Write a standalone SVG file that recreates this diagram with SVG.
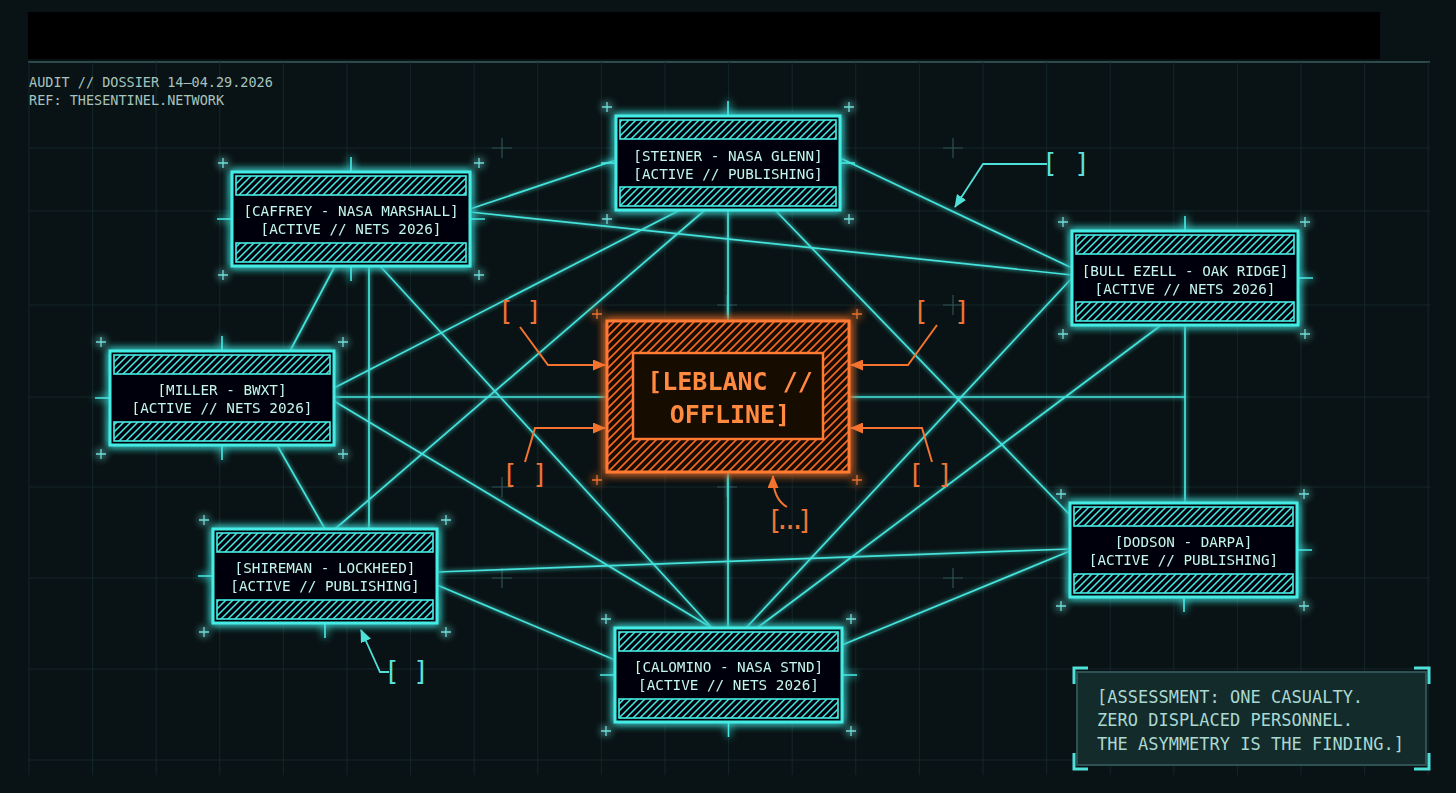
<svg xmlns="http://www.w3.org/2000/svg" width="1456" height="793" viewBox="0 0 1456 793">
<defs>
<style>
.grid{stroke:#15272a;stroke-width:1;fill:none}
.xh{stroke:#2d5153;stroke-width:1.2;fill:none}
.nbox{fill:#020607;stroke:#45ece6;stroke-width:3}
.band{fill:url(#hatchC);stroke:#45ece6;stroke-width:1.6}
.nt{font-family:"DejaVu Sans Mono","Liberation Mono",monospace;font-size:14.3px;fill:#c4f5f0;text-anchor:middle}
.tick{stroke:#45ece6;stroke-width:1.6;fill:none}
.plus{stroke:#6fdcd7;stroke-width:1.3;fill:none}
.edge{stroke:#44e3dc;stroke-width:1.7;fill:none}
.oarr{stroke:#f4742f;stroke-width:2;fill:none}
.carr{stroke:#4fe0da;stroke-width:1.8;fill:none}
.obr{font-family:"DejaVu Sans Mono","Liberation Mono",monospace;font-size:26px;fill:#ee7536}
.cbr{font-family:"DejaVu Sans Mono","Liberation Mono",monospace;font-size:26px;fill:#5ee0da}
.hdr{font-family:"DejaVu Sans Mono","Liberation Mono",monospace;font-size:13.5px;fill:#a6c4bf}
.asm{font-family:"DejaVu Sans Mono","Liberation Mono",monospace;font-size:17px;fill:#a9d9d1}
</style>
<pattern id="hatchC" width="7" height="7" patternUnits="userSpaceOnUse">
<path d="M-2,2 L2,-2 M0,7 L7,0 M5,9 L9,5" stroke="#45ece6" stroke-width="1.5"/>
</pattern>
<pattern id="hatchO" width="8" height="8" patternUnits="userSpaceOnUse">
<rect width="8" height="8" fill="#1a0a04"/>
<path d="M-2,2 L2,-2 M0,8 L8,0 M6,10 L10,6" stroke="#f06a26" stroke-width="1.7"/>
</pattern>
<filter id="glowC" filterUnits="userSpaceOnUse" x="0" y="0" width="1456" height="793">
<feGaussianBlur in="SourceGraphic" stdDeviation="4" result="b"/>
<feMerge><feMergeNode in="b"/><feMergeNode in="b"/><feMergeNode in="SourceGraphic"/></feMerge>
</filter>
<filter id="glowE" filterUnits="userSpaceOnUse" x="0" y="0" width="1456" height="793">
<feGaussianBlur in="SourceGraphic" stdDeviation="2" result="b"/>
<feMerge><feMergeNode in="b"/><feMergeNode in="SourceGraphic"/></feMerge>
</filter>
<filter id="glowO" filterUnits="userSpaceOnUse" x="0" y="0" width="1456" height="793">
<feGaussianBlur in="SourceGraphic" stdDeviation="5" result="b"/>
<feMerge><feMergeNode in="b"/><feMergeNode in="b"/><feMergeNode in="SourceGraphic"/></feMerge>
</filter>
<marker id="mO" markerUnits="userSpaceOnUse" markerWidth="13" markerHeight="11" refX="12" refY="5.5" orient="auto">
<path d="M0,0 L13,5.5 L0,11 Z" fill="#f4742f"/>
</marker>
<marker id="mC" markerUnits="userSpaceOnUse" markerWidth="13" markerHeight="11" refX="12" refY="5.5" orient="auto">
<path d="M0,0 L13,5.5 L0,11 Z" fill="#4fe0da"/>
</marker>
</defs>

<rect width="1456" height="793" fill="#091214"/>
<rect x="28" y="12" width="1352" height="47" fill="#000"/>
<line x1="28" y1="62" x2="1430" y2="62" stroke="#2d4a4c" stroke-width="2"/>

<g id="grid" class="grid">
<path d="M29,62V775 M92.6,62V775 M156.2,62V775 M219.8,62V775 M283.4,62V775 M347,62V775 M410.6,62V775 M474.2,62V775 M537.8,62V775 M601.4,62V775 M665,62V775 M728.6,62V775 M792.2,62V775 M855.8,62V775 M919.4,62V775 M983,62V775 M1046.6,62V775 M1110.2,62V775 M1173.8,62V775 M1237.4,62V775 M1301,62V775 M1364.6,62V775 M1428.2,62V775"/>
<path d="M29,148H1430 M29,211H1430 M29,305H1430 M29,397H1430 M29,487H1430 M29,578H1430 M29,669H1430 M29,760H1430"/>
</g>
<g id="crosshairs" class="xh">
<path d="M492,148h20M502,138v20 M943,148h20M953,138v20 M717,305h20M727,295v20 M943,305h20M953,295v20 M492,487h20M502,477v20 M717,487h20M727,477v20 M492,578h20M502,568v20 M943,578h20M953,568v20"/>
</g>

<g id="header">
<text class="hdr" x="29" y="87">AUDIT // DOSSIER 14–04.29.2026</text>
<text class="hdr" x="29" y="105">REF: THESENTINEL.NETWORK</text>
</g>

<g id="connectors" filter="url(#glowE)">
<path class="edge" d="M470,209 L616,160"/>
<path class="edge" d="M470,212 L1072,275"/>
<path class="edge" d="M335,266 L290,351"/>
<path class="edge" d="M369,266 L369,529"/>
<path class="edge" d="M380,266 L712,628"/>
<path class="edge" d="M334,388 L680,210"/>
<path class="edge" d="M334,397 L607,397"/>
<path class="edge" d="M334,401 L712,628"/>
<path class="edge" d="M277,445 L325,529"/>
<path class="edge" d="M335,529 L705,210"/>
<path class="edge" d="M437,572 L1070,549"/>
<path class="edge" d="M437,585 L615,660"/>
<path class="edge" d="M728,210 L728,321"/>
<path class="edge" d="M728,472 L728,628"/>
<path class="edge" d="M840,158 L1072,268"/>
<path class="edge" d="M775,210 L1070,515"/>
<path class="edge" d="M1072,278 L746,628"/>
<path class="edge" d="M1160,326 L757,628"/>
<path class="edge" d="M1185,326 L1185,503"/>
<path class="edge" d="M849,397 L1185,397"/>
<path class="edge" d="M1070,551 L842,645"/>
</g>

<g id="node-steiner" filter="url(#glowC)">
<rect class="nbox" x="616" y="116" width="224" height="94"/>
<rect class="band" x="620" y="120" width="216" height="19"/>
<rect class="band" x="620" y="187" width="216" height="19"/>
<path class="tick" d="M728,101V116 M601,163H616 M840,163H855"/>
<path class="plus" d="M602,107h10M607,102v10 M844,107h10M849,102v10 M602,219h10M607,214v10 M844,219h10M849,214v10"/>
<text class="nt" x="728" y="161">[STEINER - NASA GLENN]</text>
<text class="nt" x="728" y="179">[ACTIVE // PUBLISHING]</text>
</g>

<g id="node-caffrey" filter="url(#glowC)">
<rect class="nbox" x="232" y="172" width="238" height="94"/>
<rect class="band" x="236" y="176" width="230" height="19"/>
<rect class="band" x="236" y="243" width="230" height="19"/>
<path class="tick" d="M351,157V172 M217,219H232 M470,219H485 M351,266V281"/>
<path class="plus" d="M218,163h10M223,158v10 M474,163h10M479,158v10 M218,275h10M223,270v10 M474,275h10M479,270v10"/>
<text class="nt" x="351" y="216">[CAFFREY - NASA MARSHALL]</text>
<text class="nt" x="351" y="234">[ACTIVE // NETS 2026]</text>
</g>

<g id="node-bullezell" filter="url(#glowC)">
<rect class="nbox" x="1072" y="231" width="226" height="94"/>
<rect class="band" x="1076" y="235" width="218" height="19"/>
<rect class="band" x="1076" y="302" width="218" height="19"/>
<path class="tick" d="M1185,216V231 M1298,278H1313"/>
<path class="plus" d="M1058,222h10M1063,217v10 M1300,222h10M1305,217v10 M1058,334h10M1063,329v10 M1300,334h10M1305,329v10"/>
<text class="nt" x="1185" y="276">[BULL EZELL - OAK RIDGE]</text>
<text class="nt" x="1185" y="294">[ACTIVE // NETS 2026]</text>
</g>

<g id="node-miller" filter="url(#glowC)">
<rect class="nbox" x="110" y="351" width="224" height="94"/>
<rect class="band" x="114" y="355" width="216" height="19"/>
<rect class="band" x="114" y="422" width="216" height="19"/>
<path class="tick" d="M95,398H110 M222,336V351 M222,445V460"/>
<path class="plus" d="M96,342h10M101,337v10 M338,342h10M343,337v10 M96,454h10M101,449v10 M338,454h10M343,449v10"/>
<text class="nt" x="222" y="395">[MILLER - BWXT]</text>
<text class="nt" x="222" y="413">[ACTIVE // NETS 2026]</text>
</g>

<g id="node-shireman" filter="url(#glowC)">
<rect class="nbox" x="213" y="529" width="224" height="94"/>
<rect class="band" x="217" y="533" width="216" height="19"/>
<rect class="band" x="217" y="600" width="216" height="19"/>
<path class="tick" d="M198,576H213 M325,623V638"/>
<path class="plus" d="M199,520h10M204,515v10 M441,520h10M446,515v10 M199,632h10M204,627v10 M441,632h10M446,627v10"/>
<text class="nt" x="325" y="573">[SHIREMAN - LOCKHEED]</text>
<text class="nt" x="325" y="591">[ACTIVE // PUBLISHING]</text>
</g>

<g id="node-dodson" filter="url(#glowC)">
<rect class="nbox" x="1070" y="503" width="227" height="94"/>
<rect class="band" x="1074" y="507" width="219" height="19"/>
<rect class="band" x="1074" y="574" width="219" height="19"/>
<path class="tick" d="M1297,550H1312 M1184,597V612"/>
<path class="plus" d="M1056,494h10M1061,489v10 M1299,494h10M1304,489v10 M1056,606h10M1061,601v10 M1299,606h10M1304,601v10"/>
<text class="nt" x="1183.5" y="547">[DODSON - DARPA]</text>
<text class="nt" x="1183.5" y="565">[ACTIVE // PUBLISHING]</text>
</g>

<g id="node-calomino" filter="url(#glowC)">
<rect class="nbox" x="615" y="628" width="227" height="94"/>
<rect class="band" x="619" y="632" width="219" height="19"/>
<rect class="band" x="619" y="699" width="219" height="19"/>
<path class="tick" d="M600,675H615 M842,675H857 M728.5,722V737"/>
<path class="plus" d="M601,619h10M606,614v10 M846,619h10M851,614v10 M601,731h10M606,726v10 M846,731h10M851,726v10"/>
<text class="nt" x="728.5" y="672">[CALOMINO - NASA STND]</text>
<text class="nt" x="728.5" y="690">[ACTIVE // NETS 2026]</text>
</g>

<g id="node-leblanc" filter="url(#glowO)">
<path d="M607,321 H849 V472 H607 Z M633,353 H823 V439 H633 Z" fill="url(#hatchO)" fill-rule="evenodd"/>
<rect x="607" y="321" width="242" height="151" fill="none" stroke="#ff7a30" stroke-width="3"/>
<rect x="633" y="353" width="190" height="86" fill="#140905" stroke="#ff7a30" stroke-width="2.5"/>
<path d="M592,314h10M597,309v10 M852,314h10M857,309v10 M592,480h10M597,475v10 M852,480h10M857,475v10" stroke="#e8702f" stroke-width="1.3" fill="none"/>
<text x="730" y="390" font-family="'DejaVu Sans Mono','Liberation Mono',monospace" font-size="25" font-weight="bold" fill="#ff8a40" text-anchor="middle">[LEBLANC //</text>
<text x="730" y="423" font-family="'DejaVu Sans Mono','Liberation Mono',monospace" font-size="25" font-weight="bold" fill="#ff8a40" text-anchor="middle">OFFLINE]</text>
</g>

<g id="annotations">
<path class="oarr" d="M520,327 L548,365 L605,365" marker-end="url(#mO)"/>
<path class="oarr" d="M525,462 L535,428 L605,428" marker-end="url(#mO)"/>
<path class="oarr" d="M937,325 L908,365 L851,365" marker-end="url(#mO)"/>
<path class="oarr" d="M932,462 L922,428 L851,428" marker-end="url(#mO)"/>
<path class="oarr" d="M787,507 Q773,499 773,476" marker-end="url(#mO)"/>
<path class="carr" d="M1047,164 L983,164 L955,207" marker-end="url(#mC)"/>
<path class="carr" d="M389,672 L380,672 L361,630" marker-end="url(#mC)"/>
<text class="obr" x="498" y="320" textLength="44" lengthAdjust="spacing">[ ]</text>
<text class="obr" x="502" y="483" textLength="46" lengthAdjust="spacing">[ ]</text>
<text class="obr" x="913" y="320" textLength="57" lengthAdjust="spacing">[ ]</text>
<text class="obr" x="908" y="483" textLength="45" lengthAdjust="spacing">[ ]</text>
<text class="obr" x="767" y="529" textLength="46" lengthAdjust="spacing">[...]</text>
<text class="cbr" x="1042" y="172" textLength="48" lengthAdjust="spacing">[ ]</text>
<text class="cbr" x="384" y="680" textLength="45" lengthAdjust="spacing">[ ]</text>
</g>

<g id="assessment">
<rect x="1077" y="672" width="349" height="93" fill="#142b2c" stroke="#2e5253" stroke-width="2"/>
<path d="M1074,684V668H1088 M1414,668H1429V684 M1074,753V769H1088 M1414,769H1429V753" stroke="#4fe0da" stroke-width="3" fill="none"/>
<text class="asm" x="1097" y="703">[ASSESSMENT: ONE CASUALTY.</text>
<text class="asm" x="1097" y="726">ZERO DISPLACED PERSONNEL.</text>
<text class="asm" x="1097" y="750">THE ASYMMETRY IS THE FINDING.]</text>
</g>
</svg>
